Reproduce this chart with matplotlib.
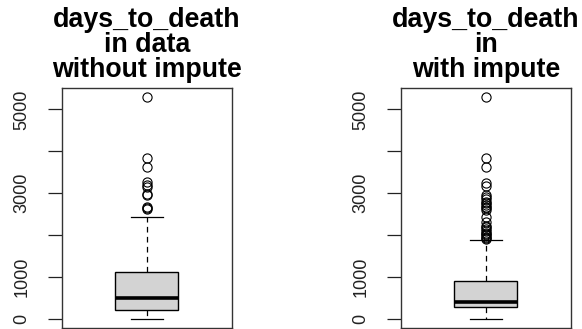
import matplotlib
matplotlib.use("Agg")
import matplotlib.pyplot as plt

plt.rcParams['font.family'] = ['Liberation Sans', 'DejaVu Sans']

titles = [["days_to_death", "in data", "without impute"],
          ["days_to_death", "in", "with impute"]]

# five-number summaries
whislo = [0, 0]
q1 = [215, 272]
med = [494, 399]
q3 = [1122, 908]
whishi = [2428, 1871]

outliers_without = [5290, 3830, 3620, 3270, 3200, 3150, 2990, 2950, 2680, 2650, 2620]
outliers_with = [5290, 3830, 3620, 3250, 3160, 2960, 2900, 2850, 2800, 2760, 2720,
                 2680, 2640, 2600, 2430, 2300, 2220, 2180, 2150, 2100, 2060, 2020,
                 1990, 1960, 1930, 1900]
fliers = [outliers_without, outliers_with]

yticks = [0, 1000, 2000, 3000, 4000, 5000]
ytick_labels = ["0", "1000", "", "3000", "", "5000"]

W, H = 582, 329
fig = plt.figure(figsize=(W / 100, H / 100), dpi=100)
lefts = [61.7, 400.7]
baselines = [26.7, 52.0, 77.3]
for i in range(2):
    ax = fig.add_axes([lefts[i] / W, 1.3 / H, 170.3 / W, 239.4 / H])
    stats = [dict(whislo=whislo[i], q1=q1[i], med=med[i], q3=q3[i],
                  whishi=whishi[i], fliers=fliers[i])]
    ax.bxp(stats, positions=[1], widths=0.4, capwidths=0.2, patch_artist=True,
           boxprops=dict(facecolor='#D3D3D3', edgecolor='black', linewidth=1.0),
           medianprops=dict(color='black', linewidth=2.6, solid_capstyle='butt'),
           whiskerprops=dict(color='black', linewidth=0.9, linestyle=(0, (4.5, 3.5))),
           capprops=dict(color='black', linewidth=0.9),
           flierprops=dict(marker='o', markerfacecolor='none', markeredgecolor='black',
                           markersize=6.6, markeredgewidth=0.8, linestyle='none'))
    top = max(fliers[i] + [whishi[i]])
    ax.set_xlim(0.46, 1.54)
    ax.set_ylim(-0.04 * top, 1.04 * top)
    ax.set_xticks([])
    ax.set_yticks(yticks)
    ax.set_yticklabels(ytick_labels, rotation=90, va='center', fontsize=13)
    ax.tick_params(axis='y', length=10, width=0.9, pad=12.5, colors='#222222')
    for s in ax.spines.values():
        s.set_linewidth(1.0)
        s.set_color('#333333')
    cx = (lefts[i] + 170.3 / 2) / W
    for line, b in zip(titles[i], baselines):
        fig.text(cx, 1 - b / H, line, ha='center', va='baseline',
                 fontsize=19.3, fontweight='bold')

fig.savefig("out.png", dpi=100)
